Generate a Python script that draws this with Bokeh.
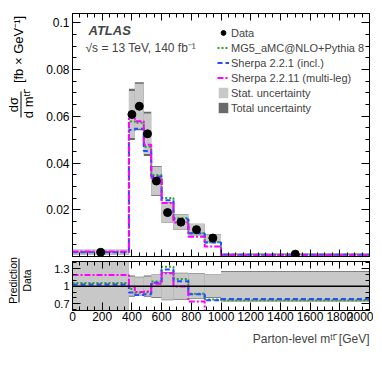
import numpy as np
from bokeh.plotting import figure
from bokeh.models import Range1d, LinearAxis, FixedTicker, Legend, LegendItem, Span, Label, Title
from bokeh.layouts import column, row
from bokeh.core.properties import value
from bokeh.embed import file_html
from bokeh.resources import INLINE

# ---------------- data ----------------
bin_edges = [0, 380, 420, 480, 530, 600, 680, 780, 890, 1000, 2000]
data_xsec = [0.0018, 0.0608, 0.0643, 0.0525, 0.0323, 0.0188, 0.0147, 0.0115, 0.0079, 0.0010]
mg5_xsec = [0.0019, 0.0578, 0.0572, 0.0470, 0.0349, 0.0250, 0.0165, 0.0100, 0.0061, 0.00076]
sherpa221_xsec = [0.00185, 0.0541, 0.0547, 0.0452, 0.0342, 0.0241, 0.0159, 0.0099, 0.0060, 0.00078]
sherpa2211_xsec = [0.00214, 0.0602, 0.0579, 0.0478, 0.0336, 0.0229, 0.0146, 0.0085, 0.0043, 0.00052]
total_unc_rel = [0.60, 0.18, 0.16, 0.18, 0.20, 0.24, 0.23, 0.22, 0.20, 0.26]
stat_unc_rel = [0.58, 0.165, 0.15, 0.165, 0.19, 0.23, 0.22, 0.21, 0.19, 0.245]

x_ticks = [0, 200, 400, 600, 800, 1000, 1200, 1400, 1600, 1800, 2000]
y_ticks = [0.02, 0.04, 0.06, 0.08, 0.1]
y_tick_labels = ["0.02", "0.04", "0.06", "0.08", "0.1"]
r_ticks = [0.7, 1.0, 1.3]
r_tick_labels = ["0.7", "1", "1.3"]

labels = ["Data", "MG5_aMC@NLO+Pythia 8", "Sherpa 2.2.1 (incl.)", "Sherpa 2.2.11 (multi-leg)",
          "Stat. uncertainty", "Total uncertainty"]
x_title = "Parton-level mᵗᵗ̄ [GeV]"

# ---------------- style ----------------
FONT = "Liberation Sans"
C_MG5 = "#2ca02c"
C_S221 = "#1f4fff"
C_S2211 = "#ff00ff"
C_STAT = "#c8c8c8"
C_TOT = "#6a6a6a"

edges = np.array(bin_edges, dtype=float)
lefts, rights = edges[:-1], edges[1:]
centers = 0.5 * (lefts + rights)
data = np.array(data_xsec)
tot = np.array(total_unc_rel)
stat = np.array(stat_unc_rel)

x_minor = list(np.arange(0, 2001, 50))
y_minor = list(np.round(np.arange(0, 0.1041, 0.005), 4))
r_minor = list(np.round(np.arange(0.6, 1.41, 0.1), 2))


def style_axis(ax, ticks, minor, labels_on, tick_labels=None, size="12px", standoff=3,
               maj=8, mnr=4):
    ax.ticker = FixedTicker(ticks=ticks, minor_ticks=minor)
    ax.major_tick_in = maj
    ax.major_tick_out = 0
    ax.minor_tick_in = mnr
    ax.minor_tick_out = 0
    ax.axis_line_color = "black"
    ax.major_tick_line_color = "black"
    ax.minor_tick_line_color = "black"
    if labels_on:
        ax.major_label_text_font = FONT
        ax.major_label_text_font_size = size
        ax.major_label_text_color = "black"
        ax.major_label_standoff = standoff
        if tick_labels:
            ax.major_label_overrides = dict(zip(ticks, tick_labels))
    else:
        ax.major_label_overrides = {t: "" for t in ticks}
        ax.major_label_text_font_size = "0px"
        ax.major_label_standoff = 0


def step_y(vals):
    v = list(vals)
    return v + [v[-1]]


LW = 38           # width of the title strip on the left
LEFT = 34         # room for tick labels
FRAME_W = 297
H_TOP = 13 + 243 + 2
H_RAT = 3 + 49 + 42

# ---------------- top panel ----------------
p = figure(width=LEFT + FRAME_W + 4, height=H_TOP,
           x_range=Range1d(0, 2000), y_range=Range1d(0, 0.104),
           output_backend="svg", toolbar_location=None,
           x_axis_location=None, y_axis_location=None,
           min_border_left=LEFT, min_border_right=4, min_border_top=13, min_border_bottom=2)
p.outline_line_color = "black"
p.grid.grid_line_color = None

ax_l = LinearAxis()
style_axis(ax_l, y_ticks, y_minor, True, y_tick_labels, size="12px", standoff=3)
p.add_layout(ax_l, "left")
ax_r = LinearAxis()
style_axis(ax_r, y_ticks, y_minor, False)
p.add_layout(ax_r, "right")
ax_b = LinearAxis()
style_axis(ax_b, x_ticks, x_minor, False, maj=7, mnr=4)
p.add_layout(ax_b, "below")
ax_t = LinearAxis()
style_axis(ax_t, x_ticks, x_minor, False, maj=7, mnr=4)
p.add_layout(ax_t, "above")

r_tot = p.quad(left=lefts, right=rights, top=data * (1 + tot), bottom=data * (1 - tot),
               fill_color=C_TOT, line_color=None)
r_stat = p.quad(left=lefts, right=rights, top=data * (1 + stat), bottom=data * (1 - stat),
                fill_color=C_STAT, line_color=None)
r_mg5 = p.step(x=edges, y=step_y(mg5_xsec), mode="after", line_color=C_MG5,
               line_width=2, line_dash="2 2")
r_s221 = p.step(x=edges, y=step_y(sherpa221_xsec), mode="after", line_color=C_S221,
                line_width=2, line_dash="5 3")
r_s2211 = p.step(x=edges, y=step_y(sherpa2211_xsec), mode="after", line_color=C_S2211,
                 line_width=2, line_dash="6 2 2 2")
r_data = p.scatter(x=centers, y=data, size=8, marker="circle", color="black")

legend = Legend(items=[
    LegendItem(label=labels[0], renderers=[r_data]),
    LegendItem(label=labels[1], renderers=[r_mg5]),
    LegendItem(label=labels[2], renderers=[r_s221]),
    LegendItem(label=labels[3], renderers=[r_s2211]),
    LegendItem(label=labels[4], renderers=[r_stat]),
    LegendItem(label=labels[5], renderers=[r_tot]),
], location=(145, 142))
legend.label_text_font = FONT
legend.label_text_font_size = "11px"
legend.label_height = 13
legend.glyph_height = 13
legend.glyph_width = 12
legend.label_standoff = 2
legend.spacing = 2
legend.padding = 2
legend.margin = 0
legend.border_line_color = None
legend.background_fill_alpha = 0
p.add_layout(legend, "center")

p.add_layout(Label(x=16, y=226, x_units="screen", y_units="screen", text="ATLAS",
                   text_font=FONT, text_font_size="13px", text_font_style="bold italic",
                   text_baseline="middle"))
p.add_layout(Label(x=13, y=209, x_units="screen", y_units="screen",
                   text="√s = 13 TeV, 140 fb⁻¹",
                   text_font=FONT, text_font_size="12px", text_baseline="middle"))

# ---------------- ratio panel ----------------
r = figure(width=LEFT + FRAME_W + 4, height=H_RAT,
           x_range=p.x_range, y_range=Range1d(0.585, 1.42),
           output_backend="svg", toolbar_location=None,
           x_axis_location=None, y_axis_location=None,
           min_border_left=LEFT, min_border_right=4, min_border_top=3, min_border_bottom=42)
r.outline_line_color = "black"
r.grid.grid_line_color = None

rax_l = LinearAxis()
style_axis(rax_l, r_ticks, r_minor, True, r_tick_labels, size="11px", standoff=3,
           maj=8, mnr=4)
r.add_layout(rax_l, "left")
rax_r = LinearAxis()
style_axis(rax_r, r_ticks, r_minor, False)
r.add_layout(rax_r, "right")
rax_t = LinearAxis()
style_axis(rax_t, x_ticks, x_minor, False, maj=7, mnr=4)
r.add_layout(rax_t, "above")
rax_b = LinearAxis()
style_axis(rax_b, x_ticks, x_minor, True, size="12px", standoff=1, maj=8, mnr=4)
r.add_layout(rax_b, "below")
r.add_layout(Title(text=x_title, align="right", text_font=FONT, text_font_size="12px",
                   text_font_style="normal", standoff=12), "below")

r.quad(left=lefts, right=rights, top=1 + tot, bottom=1 - tot, fill_color=C_TOT, line_color=None)
r.quad(left=lefts, right=rights, top=1 + stat, bottom=1 - stat, fill_color=C_STAT, line_color=None)
r.add_layout(Span(location=1.0, dimension="width", line_color="black", line_width=1.5))
for vals, col, dash in [(mg5_xsec, C_MG5, "2 2"), (sherpa221_xsec, C_S221, "5 3"),
                        (sherpa2211_xsec, C_S2211, "6 2 2 2")]:
    ratio = np.array(vals) / data
    r.step(x=edges, y=step_y(ratio), mode="after", line_color=col, line_width=2, line_dash=dash)

# ---------------- title strip (rotated y titles), coordinates = page pixels ----------------
H = H_TOP + H_RAT
t = figure(width=LW, height=H, x_range=Range1d(0, LW), y_range=Range1d(H, 0),
           output_backend="svg", toolbar_location=None,
           x_axis_location=None, y_axis_location=None, min_border=0)
t.outline_line_color = None
t.grid.grid_line_color = None
t.text(x=[13, 27.5, 18], y=[104, 104, 49], text=["dσ", "d mᵗᵗ̄", "[fb × GeV⁻¹]"],
       angle=np.pi / 2, text_align="center", text_baseline="middle",
       text_font=value(FONT), text_font_size="13px", text_color="black")
t.segment(x0=[20.5], y0=[91], x1=[20.5], y1=[117], line_color="black", line_width=1)
t.text(x=[12, 26], y=[280, 280], text=["Prediction", "Data"],
       angle=np.pi / 2, text_align="center", text_baseline="middle",
       text_font=value(FONT), text_font_size="10.5px", text_color="black")
t.segment(x0=[18.5], y0=[258], x1=[18.5], y1=[302], line_color="black", line_width=1)

layout = row(t, column(p, r, spacing=0), spacing=0)
open("out.html", "w").write(file_html(layout, INLINE))
